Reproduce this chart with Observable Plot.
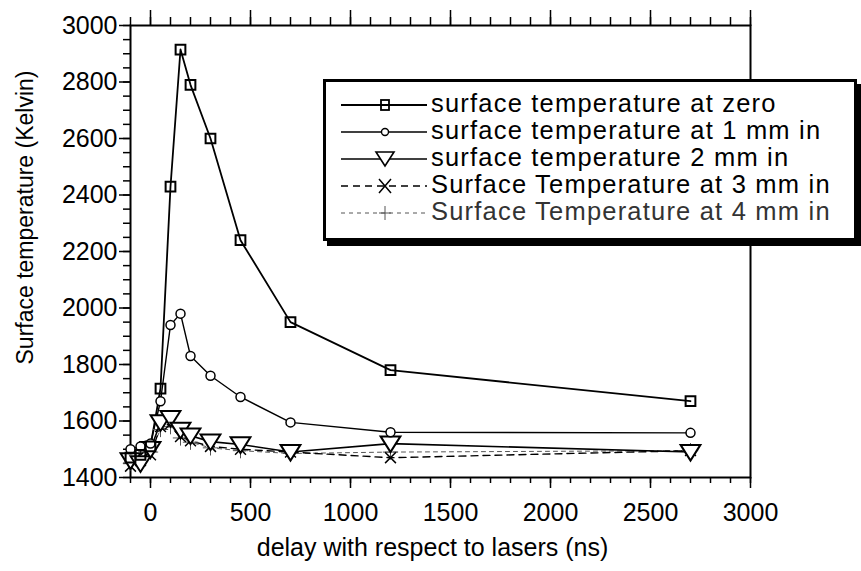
<!DOCTYPE html>
<html><head><meta charset="utf-8">
<script src="https://cdn.jsdelivr.net/npm/d3@7"></script>
<script src="https://cdn.jsdelivr.net/npm/@observablehq/plot@0.6"></script>
<style>
body{margin:0;background:#fff;}
#wrap{position:relative;width:861px;height:571px;font-family:"Liberation Sans",Arial,sans-serif;}
#legend{position:absolute;left:323px;top:79px;width:528px;height:156px;border:3px solid #000;box-shadow:4px 5px 0 #000;background:#fff;}
#legend svg{position:absolute;left:0;top:0;}
</style></head><body><div id="wrap"></div>
<script>
// delay (ns)
const delays = [-100, -50, 0, 50, 100, 150, 200, 300, 450, 700, 1200, 2700];
// surface temperature (K)
const tempZero = [1470, 1480, 1510, 1715, 2430, 2915, 2790, 2600, 2240, 1950, 1780, 1670];
const temp1mm  = [1500, 1510, 1520, 1670, 1940, 1980, 1830, 1760, 1685, 1595, 1560, 1558];
const temp2mm  = [1460, 1450, 1500, 1595, 1610, 1568, 1548, 1527, 1517, 1490, 1520, 1490];
const temp3mm  = [1440, 1460, 1480, 1580, 1590, 1545, 1530, 1510, 1500, 1490, 1470, 1495];
const temp4mm  = [1450, 1470, 1490, 1570, 1580, 1540, 1525, 1505, 1495, 1485, 1490, 1495];
const seriesNames = [
  "surface temperature at zero",
  "surface temperature at 1 mm in",
  "surface temperature 2 mm in",
  "Surface Temperature at 3 mm in",
  "Surface Temperature at 4 mm in"
];
const xMajor = [0, 500, 1000, 1500, 2000, 2500, 3000];
const yMajor = [1400, 1600, 1800, 2000, 2200, 2400, 2600, 2800, 3000];

const mk = (t) => delays.map((d, i) => ({d, t: t[i]}));
const triDown = {draw(ctx, size){ const r = Math.sqrt(size/Math.PI);
  ctx.moveTo(-1.1*r, -0.8*r); ctx.lineTo(1.1*r, -0.8*r); ctx.lineTo(0, 0.95*r); ctx.closePath(); }};

const plot = Plot.plot({
  width: 861, height: 571,
  marginLeft: 130, marginRight: 111, marginTop: 25, marginBottom: 94,
  style: {fontFamily: '"Liberation Sans", Arial, sans-serif', background: "#fff", color: "#000"},
  x: {domain: [-100, 3000], label: null},
  y: {domain: [1400, 3000], label: null},
  marks: [
    Plot.axisX({anchor: "bottom", ticks: d3.range(-100, 3001, 100), tickSize: 6, tickFormat: () => "", label: null, strokeWidth: 1.5}),
    Plot.axisX({anchor: "bottom", ticks: xMajor, tickSize: 11, tickPadding: 15, fontSize: 25, tickFormat: d3.format("d"), label: null, strokeWidth: 1.5}),
    Plot.axisX({anchor: "top", ticks: d3.range(-100, 3001, 100), tickSize: 9, tickFormat: () => "", label: null, strokeWidth: 1.5}),
    Plot.axisX({anchor: "top", ticks: xMajor, tickSize: 16, tickFormat: () => "", label: null, strokeWidth: 1.5}),
    Plot.axisY({anchor: "left", ticks: d3.range(1400, 3001, 50), tickSize: 7, tickFormat: () => "", label: null, strokeWidth: 1.5}),
    Plot.axisY({anchor: "left", ticks: yMajor, tickSize: 11, tickPadding: 2, fontSize: 25, tickFormat: d3.format("d"), label: null, strokeWidth: 1.5}),
    Plot.frame({stroke: "#000", strokeWidth: 2}),
    Plot.line(mk(temp4mm), {x: "d", y: "t", stroke: "#555", strokeWidth: 1, strokeDasharray: "4,4"}),
    Plot.line(mk(temp3mm), {x: "d", y: "t", stroke: "#000", strokeWidth: 1.4, strokeDasharray: "7,5"}),
    Plot.line(mk(temp2mm), {x: "d", y: "t", stroke: "#000", strokeWidth: 1.6}),
    Plot.line(mk(temp1mm), {x: "d", y: "t", stroke: "#000", strokeWidth: 1.4}),
    Plot.line(mk(tempZero), {x: "d", y: "t", stroke: "#000", strokeWidth: 1.8}),
    Plot.dot(mk(temp4mm), {x: "d", y: "t", symbol: "plus", r: 5, stroke: "#555", strokeWidth: 1}),
    Plot.dot(mk(temp3mm), {x: "d", y: "t", symbol: "times", r: 5, stroke: "#000", strokeWidth: 1.5}),
    Plot.dot(mk(temp2mm), {x: "d", y: "t", symbol: triDown, r: 9, stroke: "#000", fill: "#fff", strokeWidth: 2}),
    Plot.dot(mk(temp1mm), {x: "d", y: "t", symbol: "circle", r: 4.5, stroke: "#000", fill: "#fff", strokeWidth: 1.5}),
    Plot.dot(mk(tempZero), {x: "d", y: "t", symbol: "square", r: 5.5, stroke: "#000", fill: "none", strokeWidth: 2}),
    Plot.text(["delay with respect to lasers (ns)"], {frameAnchor: "bottom", lineAnchor: "middle", textAnchor: "middle", dy: 70, dx: -8, fontSize: 25, fill: "#000"}),
    Plot.text(["Surface temperature (Kelvin)"], {frameAnchor: "left", textAnchor: "middle", lineAnchor: "middle", rotate: -90, dx: -105, dy: -34, fontSize: 23, fill: "#000"})
  ]
});
const wrap = document.getElementById("wrap");
wrap.appendChild(plot);

// legend overlay
const leg = document.createElement("div");
leg.id = "legend";
wrap.appendChild(leg);
const svg = d3.select(leg).append("svg").attr("width", 528).attr("height", 156)
  .style("font-family", '"Liberation Sans", Arial, sans-serif');
const styles = [
  {dash: null, sw: 1.8, col: "#000", sym: "square"},
  {dash: null, sw: 1.4, col: "#000", sym: "circle"},
  {dash: null, sw: 1.6, col: "#000", sym: "tri"},
  {dash: "7,5", sw: 1.4, col: "#000", sym: "times"},
  {dash: "4,4", sw: 1, col: "#555", sym: "plus"}
];
seriesNames.forEach((name, i) => {
  const s = styles[i];
  const yb = 30 + i * 27;      // baseline
  const yl = yb - 7;           // line y
  const g = svg.append("g");
  g.append("line").attr("x1", 15).attr("x2", 101).attr("y1", yl).attr("y2", yl)
    .attr("stroke", s.col).attr("stroke-width", s.sw).attr("stroke-dasharray", s.dash);
  const cx = 59;
  if (s.sym === "square") g.append("rect").attr("x", cx-4).attr("y", yl-5).attr("width", 8).attr("height", 10).attr("fill", "none").attr("stroke", "#000").attr("stroke-width", 1.8);
  if (s.sym === "circle") g.append("circle").attr("cx", cx).attr("cy", yl).attr("r", 3.5).attr("fill", "#fff").attr("stroke", "#000").attr("stroke-width", 1.4);
  if (s.sym === "tri") g.append("path").attr("d", `M${cx-9},${yl-7}L${cx+9},${yl-7}L${cx},${yl+7}Z`).attr("fill", "#fff").attr("stroke", "#000").attr("stroke-width", 1.6);
  if (s.sym === "times") g.append("path").attr("d", `M${cx-6},${yl-7}L${cx+6},${yl+7}M${cx+6},${yl-7}L${cx-6},${yl+7}`).attr("stroke", "#000").attr("stroke-width", 1.5);
  if (s.sym === "plus") g.append("path").attr("d", `M${cx-6},${yl}L${cx+6},${yl}M${cx},${yl-7}L${cx},${yl+7}`).attr("stroke", "#555").attr("stroke-width", 1);
  g.append("text").attr("x", 105).attr("y", yb).attr("font-size", 25.5).attr("letter-spacing", 1.2)
    .attr("fill", i === 4 ? "#333" : "#000").text(name);
});
</script>
</body></html>
